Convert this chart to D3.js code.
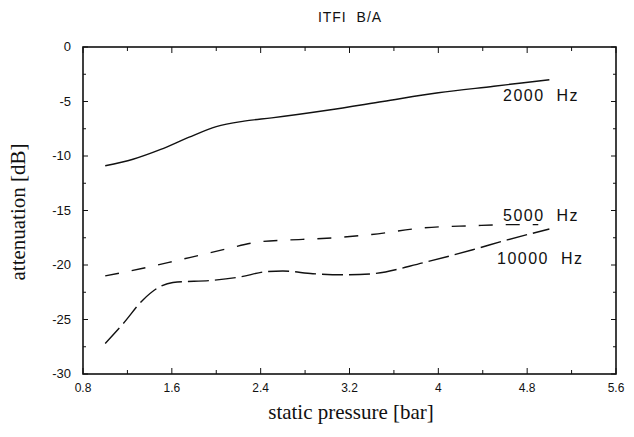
<!DOCTYPE html>
<html>
<head>
<meta charset="utf-8">
<script src="https://cdn.jsdelivr.net/npm/d3@7.9.0/dist/d3.min.js"></script>
<style>
  body { margin: 0; background: #fff; }
  svg { display: block; }
  .tick-label { font-family: "Liberation Sans", Arial, sans-serif; font-size: 12px; fill: #111; }
  .axis-title { font-family: "Liberation Serif", "Times New Roman", serif; font-size: 21px; fill: #111; }
</style>
</head>
<body>
<svg width="634" height="437"></svg>
<script>
// data: pressure [bar] and attenuation [dB]
const pressure2000 = [1.0, 1.25, 1.5, 1.75, 2.0, 2.25, 2.5, 3.0, 3.5, 4.0, 4.5, 5.0];
const atten2000 = [-10.9, -10.3, -9.4, -8.3, -7.3, -6.8, -6.5, -5.8, -5.0, -4.2, -3.6, -3.0];

const pressure5000 = [1.0, 1.34, 1.6, 1.85, 2.1, 2.37, 2.65, 2.9, 3.4, 3.86, 4.3, 4.62, 4.9];
const atten5000 = [-21.0, -20.3, -19.7, -19.1, -18.5, -17.9, -17.7, -17.6, -17.2, -16.6, -16.4, -16.3, -16.3];

const pressure10000 = [1.0, 1.16, 1.34, 1.49, 1.61, 1.97, 2.21, 2.46, 2.6, 2.87, 3.18, 3.41, 3.86, 4.31, 4.62, 5.0];
const atten10000 = [-27.2, -25.4, -23.2, -22.0, -21.6, -21.4, -21.1, -20.6, -20.55, -20.8, -20.9, -20.8, -19.8, -18.6, -17.7, -16.7];

const xTicks = [0.8, 1.6, 2.4, 3.2, 4, 4.8, 5.6];
const xTickLabels = ['0.8', '1.6', '2.4', '3.2', '4', '4.8', '5.6'];
const yTicks = [0, -5, -10, -15, -20, -25, -30];

const series = [
  { name: '2000 Hz', xs: pressure2000, ys: atten2000, dash: null, labelX: 503, labelY: -4.95 },
  { name: '5000 Hz', xs: pressure5000, ys: atten5000, dash: '14,13', labelX: 503, labelY: -15.95 },
  { name: '10000 Hz', xs: pressure10000, ys: atten10000, dash: '21,6', labelX: 497, labelY: -19.9 },
];

const svg = d3.select('svg');
const plotL = 83, plotR = 616, plotT = 47, plotB = 374;

const x = d3.scaleLinear().domain([0.8, 5.6]).range([plotL, plotR]);
const y = d3.scaleLinear().domain([-30, 0]).range([plotB, plotT]);

// title
svg.append('text')
  .attr('class', 'tick-label')
  .attr('x', 350).attr('y', 22)
  .attr('text-anchor', 'middle')
  .style('font-size', '14px')
  .style('letter-spacing', '1px')
  .style('white-space', 'pre')
  .text('ITFI  B/A');

// ticks (inward, on all four sides)
const xMinor = d3.range(0.8, 5.61, 0.4);
const g = svg.append('g').attr('stroke', '#111').attr('stroke-width', 1);
xMinor.forEach((v, i) => {
  const len = i % 2 === 0 ? 6 : 4;
  g.append('line').attr('x1', x(v)).attr('x2', x(v)).attr('y1', plotB).attr('y2', plotB - len);
  g.append('line').attr('x1', x(v)).attr('x2', x(v)).attr('y1', plotT).attr('y2', plotT + len);
});
const yMinor = d3.range(-30, 0.1, 2.5);
yMinor.forEach((v, i) => {
  const len = i % 2 === 0 ? 5 : 3;
  g.append('line').attr('x1', plotL).attr('x2', plotL + len).attr('y1', y(v)).attr('y2', y(v));
  g.append('line').attr('x1', plotR).attr('x2', plotR - len).attr('y1', y(v)).attr('y2', y(v));
});

// frame
svg.append('rect')
  .attr('x', plotL).attr('y', plotT)
  .attr('width', plotR - plotL).attr('height', plotB - plotT)
  .attr('fill', 'none').attr('stroke', '#111').attr('stroke-width', 1.6);

// tick labels
svg.selectAll('.xl').data(xTicks).enter().append('text')
  .attr('class', 'tick-label')
  .attr('x', d => x(d)).attr('y', plotB + 18)
  .attr('text-anchor', 'middle')
  .text((d, i) => xTickLabels[i]);

svg.selectAll('.yl').data(yTicks).enter().append('text')
  .attr('class', 'tick-label')
  .attr('x', plotL - 12).attr('y', d => y(d) + 4)
  .attr('text-anchor', 'end')
  .style('font-size', '13px')
  .text(d => d === 0 ? '0' : '-' + Math.abs(d));

// axis titles
svg.append('text')
  .attr('class', 'axis-title')
  .attr('x', 351).attr('y', 419)
  .attr('text-anchor', 'middle')
  .text('static pressure [bar]');

svg.append('text')
  .attr('class', 'axis-title')
  .attr('transform', 'translate(25,212) rotate(-90)')
  .attr('text-anchor', 'middle')
  .text('attenuation [dB]');

// curves
const line = d3.line()
  .x(d => x(d[0]))
  .y(d => y(d[1]))
  .curve(d3.curveMonotoneX);

series.forEach(s => {
  const pts = s.xs.map((v, i) => [v, s.ys[i]]);
  svg.append('path')
    .attr('d', line(pts))
    .attr('fill', 'none')
    .attr('stroke', '#111')
    .attr('stroke-width', 1.4)
    .attr('stroke-dasharray', s.dash);

  svg.append('text')
    .attr('class', 'tick-label')
    .attr('x', s.labelX).attr('y', y(s.labelY))
    .style('font-size', '16px')
    .style('letter-spacing', '1.5px')
    .style('white-space', 'pre')
    .text(s.name.replace(' ', '  '));
});
</script>
</body>
</html>
